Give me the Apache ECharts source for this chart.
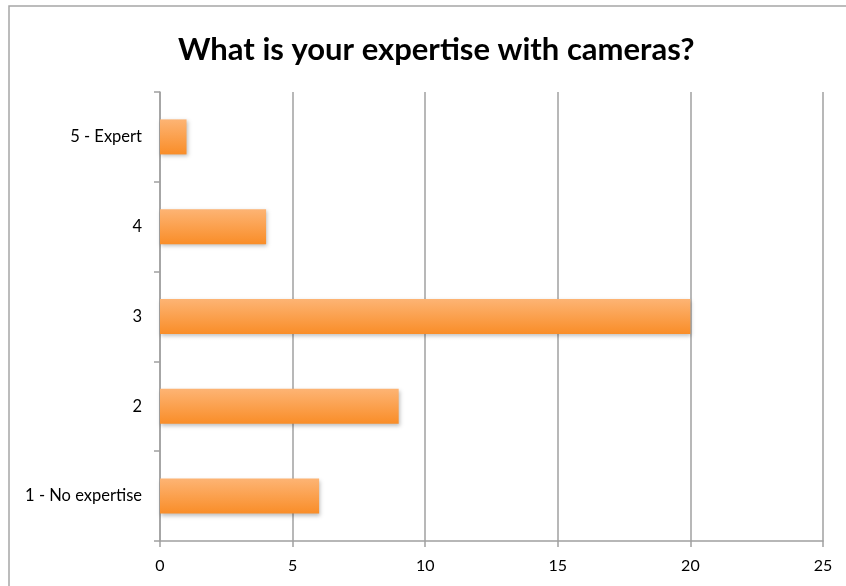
<!DOCTYPE html>
<html>
<head>
<meta charset="utf-8">
<script src="https://cdn.jsdelivr.net/npm/echarts@6/dist/echarts.min.js"></script>
<style>
  html, body { margin: 0; padding: 0; background: #ffffff; }
  #chart { width: 846px; height: 586px; }
</style>
</head>
<body>
<div id="chart"></div>
<script>
// Survey answers, bottom to top
const categories = ['1 - No expertise', '2', '3', '4', '5 - Expert'];
const responses = [6, 9, 20, 4, 1];
const xTicks = { min: 0, max: 25, interval: 5 };

const chart = echarts.init(document.getElementById('chart'), null, { renderer: 'canvas' });

const fontFamily = 'Lato, "Open Sans", "Noto Sans", sans-serif';

chart.setOption({
  backgroundColor: '#ffffff',
  animation: false,
  title: {
    text: 'What is your expertise with cameras?',
    left: 173,
    top: 29,
    textStyle: {
      fontFamily: fontFamily,
      fontWeight: 'bold',
      fontSize: 31,
      color: '#000000'
    }
  },
  graphic: [{
    type: 'rect',
    shape: { x: 9, y: 6, width: 900, height: 640 },
    style: { fill: 'none', stroke: '#a6a6a6', lineWidth: 1.5 },
    silent: true,
    z: -1
  }],
  grid: { left: 160, right: 23, top: 92, bottom: 45 },
  xAxis: {
    type: 'value',
    min: xTicks.min,
    max: xTicks.max,
    interval: xTicks.interval,
    axisLine: { show: true, lineStyle: { color: '#a0a0a0', width: 1.5 } },
    axisTick: { show: true, length: 6, lineStyle: { color: '#a0a0a0', width: 1.5 } },
    splitLine: { show: true, lineStyle: { color: '#a0a0a0', width: 1.5 } },
    axisLabel: { color: '#000000', fontSize: 16, fontFamily: fontFamily, margin: 17 }
  },
  yAxis: {
    type: 'category',
    data: categories,
    axisLine: { show: true, lineStyle: { color: '#a0a0a0', width: 1.5 } },
    axisTick: { show: true, length: 6, alignWithLabel: false, lineStyle: { color: '#a0a0a0', width: 1.5 } },
    axisLabel: { color: '#000000', fontSize: 16.5, fontFamily: fontFamily, margin: 18 },
    splitLine: { show: false }
  },
  series: [{
    type: 'bar',
    data: responses,
    barWidth: '39%',
    itemStyle: {
      color: new echarts.graphic.LinearGradient(0, 0, 0, 1, [
        { offset: 0, color: '#fdb474' },
        { offset: 1, color: '#f98d28' }
      ]),
      shadowColor: 'rgba(0,0,0,0.25)',
      shadowBlur: 4,
      shadowOffsetX: 1,
      shadowOffsetY: 2
    },
    z: 3
  }]
});
</script>
</body>
</html>
